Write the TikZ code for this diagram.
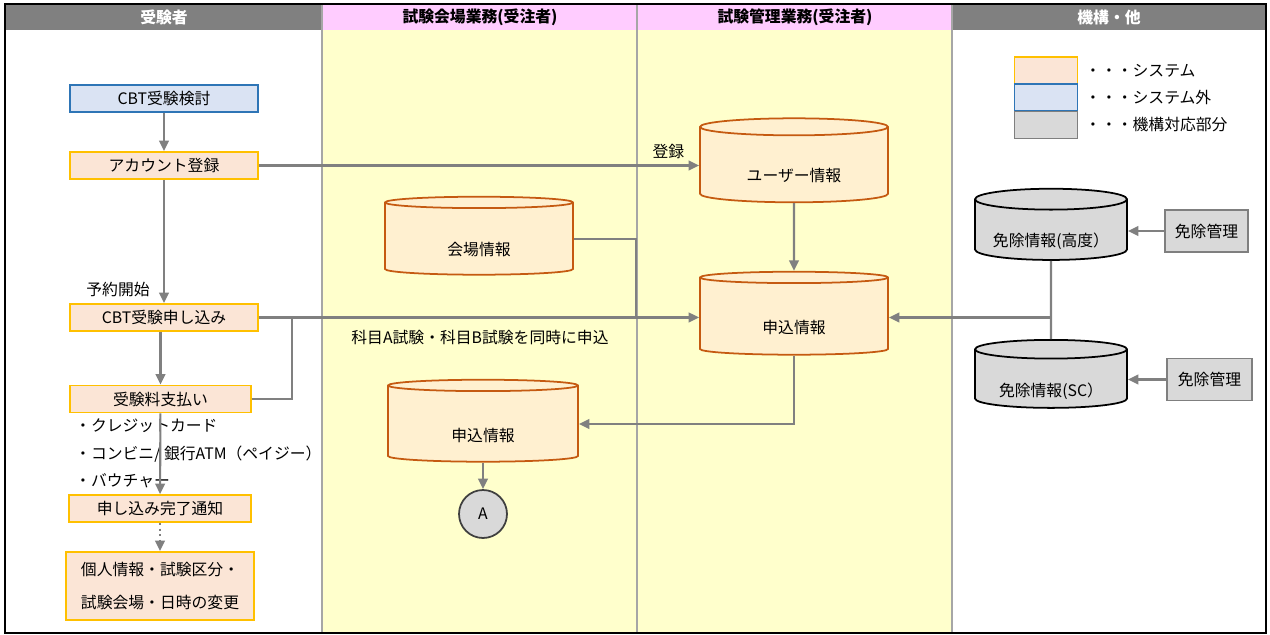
\documentclass[tikz,border=0pt]{standalone}
\usepackage{fontspec}
\setmainfont{Noto Sans CJK JP}
\usetikzlibrary{arrows.meta,shapes,positioning}

\definecolor{hdrgray}{HTML}{808080}
\definecolor{hdrpink}{HTML}{FFCCFF}
\definecolor{laneyellow}{HTML}{FFFFCC}
\definecolor{sysfill}{HTML}{FBE5D6}
\definecolor{sysdraw}{HTML}{FFC000}
\definecolor{extfill}{HTML}{DAE3F3}
\definecolor{extdraw}{HTML}{2E75B6}
\definecolor{orgfill}{HTML}{D9D9D9}
\definecolor{orgdraw}{HTML}{7F7F7F}
\definecolor{dbfill}{HTML}{FFF0D0}
\definecolor{dbdraw}{HTML}{C55A11}
\definecolor{flowgray}{HTML}{808080}
\definecolor{lanegray}{HTML}{A6A6A6}

\begin{document}
\begin{tikzpicture}[x=0.02cm,y=-0.02cm,>={Triangle[length=6pt,width=5.5pt]},
		font=\fontsize{9}{11}\selectfont,node distance=1.34cm,
		sys/.style={rectangle,draw=sysdraw,fill=sysfill,line width=1pt,minimum width=3.76cm,minimum height=0.54cm,inner sep=0pt},
		ext/.style={sys,draw=extdraw,fill=extfill},
		org/.style={rectangle,draw=orgdraw,fill=orgfill,line width=1pt,minimum width=1.66cm,minimum height=0.84cm},
		db/.style={cylinder,shape border rotate=90,aspect=0.18,draw=dbdraw,fill=dbfill,line width=1pt,minimum width=3.76cm,minimum height=1.66cm,inner sep=0pt,
			text height=0.73cm,text depth=0.05cm},
		orgdb/.style={db,draw=black,fill=orgfill,minimum width=3.04cm,minimum height=1.38cm},
		flow/.style={->,draw=flowgray,line width=1.2pt},
		hdr/.style={font=\fontsize{9}{11}\selectfont\bfseries}]

		\useasboundingbox (0,0) rectangle (1270,635);

		% lanes and headers
		\fill[laneyellow] (322,30) rectangle (952,633);
		\fill[hdrgray] (6,4) rectangle (322,30);
		\fill[hdrpink] (322,4) rectangle (952,30);
		\fill[hdrgray] (952,4) rectangle (1266,30);
		\foreach \lx in {322,637,952}
			\draw[lanegray,line width=1.2pt] (\lx,4) -- (\lx,633);
		\draw[black,line width=1.5pt] (5,4) rectangle (1266,633);
		\node[hdr,text=white] (H1) at (164,17) {受験者};
		\node[hdr] (H2) at (480,17) {試験会場業務(受注者)};
		\node[hdr] (H3) at (795,17) {試験管理業務(受注者)};
		\node[hdr,text=white] (H4) at (1109,17) {機構・他};

		% legend
		\node[sys,minimum width=1.26cm] (L1) at (1046,70.5) {};
		\node[ext,minimum width=1.26cm] (L2) [below of=L1,node distance=0.54cm] {};
		\node[org,minimum width=1.26cm,minimum height=0.54cm] (L3) [below of=L2,node distance=0.55cm] {};
		\node[anchor=west] (T1) at (1079,70.5) {・・・システム};
		\node[anchor=west] (T2) at (1079,97.5) {・・・システム外};
		\node[anchor=west] (T3) at (1079,125) {・・・機構対応部分};

		% applicant lane
		\node[ext] (kentou) at (164,98.5) {CBT受験検討};
		\node[sys] (account) [below of=kentou] {アカウント登録};
		\node[sys] (moushikomi) [below of=account,node distance=3.04cm] {CBT受験申し込み};
		\node[sys,minimum width=3.62cm] (shiharai) at (160.5,399) {受験料支払い};
		\node[anchor=west] (pay1) at (69,426) {・クレジットカード};
		\node[anchor=west] (pay2) at (69,454) {・コンビニ/ 銀行ATM（ペイジー）};
		\node[anchor=west] (pay3) at (69,481) {・バウチャー};
		\node[sys,minimum width=3.64cm] (kanryou) at (160,508.5) {申し込み完了通知};
		\node[sys,minimum height=1.36cm,align=left,font=\fontsize{9}{19}\selectfont] (henkou) at (160,586)
			{個人情報・試験区分・\\試験会場・日時の変更};
		\node (yoyaku) at (118,290) {予約開始};

		% data stores
		\node[db,minimum height=1.56cm] (kaijou) at (479,239) {会場情報};
		\node[db,minimum width=3.8cm,minimum height=1.64cm] (moushi2) at (483,424) {申込情報};
		\node[circle,draw=black!75,fill=orgfill,line width=1pt,minimum size=0.96cm,inner sep=0pt] (A) at (483,514) {A};
		\node[db,minimum height=1.68cm] (user) at (794,165) {ユーザー情報};
		\node[db] (moushi3) at (794,316.5) {申込情報};
		\node[orgdb] (kodo) at (1051,230) {免除情報(高度）};
		\node[orgdb,minimum height=1.36cm] (sc) at (1051,379) {免除情報(SC）};
		\node[org] (kanri1) at (1206.5,231) {免除管理};
		\node[org,minimum width=1.7cm] (kanri2) at (1209.5,379.5) {免除管理};

		\coordinate (j1) at (292,317.5);
		\coordinate (j2) at (636,317.5);
		\coordinate (j3) at (1050,317.5);

		% connectors
		\draw[flow] (kentou) -- (account);
		\draw[flow] (account) -- (moushikomi);
		\draw[flow] (moushikomi.south -| shiharai.north) -- (shiharai);
		\draw[flow] (shiharai) -- (kanryou);
		\draw[flow,dotted] (kanryou) -- (henkou);
		\draw[flow] (account.east) -- node[above,pos=0.93] {登録} (user.west |- account.east);
		\draw[flow] (moushikomi.east) -- (moushi3.west |- moushikomi.east);
		\draw[flowgray,line width=1.2pt] (shiharai.east) -| (j1);
		\draw[flowgray,line width=1.2pt] (kaijou.east) -| (j2);
		\draw[flow] (user) -- (moushi3);
		\draw[flow] (moushi3.south) |- (moushi2.east);
		\draw[flow] (moushi2) -- (A);
		\draw[flowgray,line width=1.2pt] (kodo.south) -- (sc.north);
		\draw[flow] (j3) -- (moushi3.east |- j3);
		\draw[flow] (kanri1) -- (kodo.east |- kanri1);
		\draw[flow] (kanri2) -- (sc.east |- kanri2);
		\node (doji) at (480,337) {科目A試験・科目B試験を同時に申込};
	\end{tikzpicture}
\end{document}
